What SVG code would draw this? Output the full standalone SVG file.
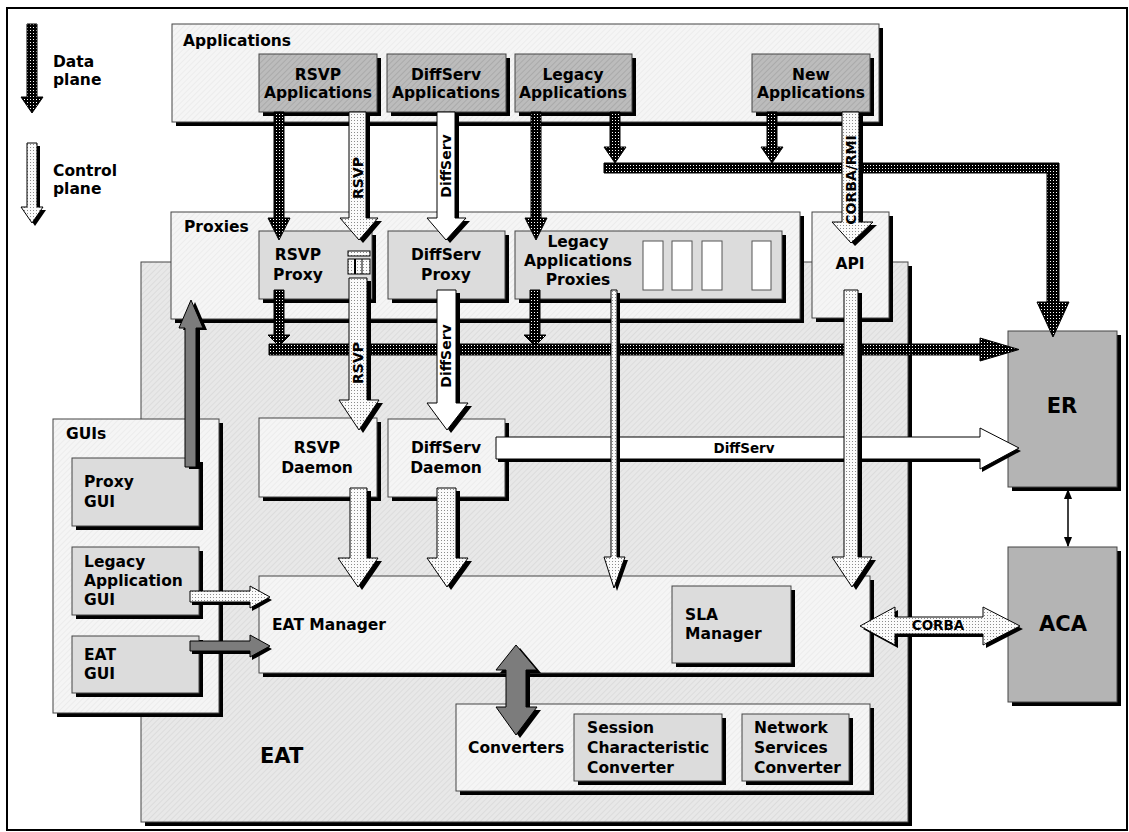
<svg xmlns="http://www.w3.org/2000/svg" width="1129" height="832" viewBox="0 0 1129 832">
<defs>
<pattern id="dp" width="3" height="3" patternUnits="userSpaceOnUse"><rect width="3" height="3" fill="#000"/><rect width="1" height="1" fill="#fff"/></pattern>
<pattern id="cp" width="3" height="3" patternUnits="userSpaceOnUse"><rect width="3" height="3" fill="#fbfbfb"/><rect width="1" height="1" fill="#8c8c8c"/></pattern>
<pattern id="hm" width="4" height="4" patternUnits="userSpaceOnUse" patternTransform="rotate(45)"><rect width="4" height="4" fill="#bcbcbc"/><rect width="1" height="4" fill="#aaaaaa"/></pattern>
<pattern id="hl" width="4" height="4" patternUnits="userSpaceOnUse" patternTransform="rotate(45)"><rect width="4" height="4" fill="#f5f5f5"/><rect width="1" height="4" fill="#ececec"/></pattern>
<pattern id="he" width="4" height="4" patternUnits="userSpaceOnUse" patternTransform="rotate(45)"><rect width="4" height="4" fill="#e8e8e8"/><rect width="1" height="4" fill="#dcdcdc"/></pattern>
<marker id="ah" viewBox="0 0 10 10" refX="9" refY="5" markerWidth="7" markerHeight="7" orient="auto-start-reverse"><path d="M0,1 L10,5 L0,9 z" fill="#000"/></marker>
<polygon id="lc" points="27,143 37,143 37,207 43,207 32,223 21,207 27,207"/>
<polygon id="c1" points="349,112 366,112 366,218 378,218 359,240 340,218 349,218"/>
<polygon id="c2" points="437,112 455,112 455,218 466,218 446,240 427,218 437,218"/>
<polygon id="c3" points="842,112 859,112 859,222 873,222 851,243 832,222 842,222"/>
<polygon id="c4" points="349,278 367,278 367,400 379,400 359,430 339,400 349,400"/>
<polygon id="c5" points="437,290 456,290 456,403 468,403 447,430 427,403 437,403"/>
<polygon id="c6" points="350,488 367,488 367,558 378,558 358,587 338,558 350,558"/>
<polygon id="c7" points="437,488 456,488 456,558 468,558 447,587 427,558 437,558"/>
<polygon id="c8" points="611,290 617,290 617,557 625,557 614,588 604,557 611,557"/>
<polygon id="c9" points="844,290 858,290 858,557 872,557 852,587 832,557 844,557"/>
<polygon id="c10" points="496,437 980,437 980,428 1019,448 980,469 980,459 496,459"/>
<polygon id="c11" points="190,591 250,591 250,586 270,597 250,608 250,602 190,602"/>
<polygon id="c12" points="190,641 250,641 250,635 270,646 250,657 250,651 190,651"/>
<polygon id="c13" points="185,467 196,467 196,328 203,328 191,300 179,328 185,328"/>
<polygon id="c14" points="516,645 537,670 526,670 526,707 537,707 516,735 496,707 506,707 506,670 496,670"/>
<polygon id="c15" points="860,626 895,607 895,617 983,617 983,607 1020,626 983,645 983,634 895,634 895,645"/>
</defs>
<style>
text{font-family:"DejaVu Sans","Liberation Sans",sans-serif;font-weight:bold;font-size:15.5px;fill:#000}
.m{text-anchor:middle}
.big{font-size:21px}
.sm{font-size:13.5px}
.rl{font-size:14px}
.sh{fill:#000}
.k0{fill:url(#hl);stroke:#444;stroke-width:1}
.k1{fill:url(#hm);stroke:#444;stroke-width:1}
.k2{fill:#dcdcdc;stroke:#444;stroke-width:1}
.ke{fill:url(#he);stroke:#444;stroke-width:1}
.kr{fill:#b4b4b4;stroke:#444;stroke-width:1}
.wb{fill:#fff;stroke:#555;stroke-width:1}
.data{fill:url(#dp);stroke:#000;stroke-width:1}
.ctrl{fill:url(#cp);stroke:#000;stroke-width:1}
.white{fill:#fff;stroke:#000;stroke-width:1}
.gray{fill:#7c7c7c;stroke:#000;stroke-width:1}
</style>
<rect x="7" y="8" width="1120" height="822" fill="#fff" stroke="#000" stroke-width="2"/>

<g id="legend">
<polygon class="data" points="27,24 37,24 37,97 43,97 32,113 21,97 27,97"/>
<text x="53" y="67">Data</text>
<text x="53" y="85">plane</text>
<use href="#lc" class="sh" transform="translate(3,3)"/>
<use href="#lc" class="ctrl"/>
<text x="53" y="176">Control</text>
<text x="53" y="194">plane</text>
</g>

<g id="eat">
<rect class="sh" x="145" y="266" width="767" height="560"/>
<rect class="ke" x="141" y="262" width="767" height="560"/>
<text class="big" x="260" y="763">EAT</text>
</g>

<g id="applications">
<rect class="sh" x="176" y="28" width="707" height="98"/>
<rect class="k0" x="172" y="24" width="707" height="98"/>
<text x="183" y="46">Applications</text>
</g>
<g id="rsvp-applications">
<rect class="sh" x="263" y="58" width="118" height="58"/>
<rect class="k1" x="259" y="54" width="118" height="58"/>
<text class="m" x="318" y="80">RSVP</text>
<text class="m" x="318" y="98">Applications</text>
</g>
<g id="diffserv-applications">
<rect class="sh" x="391" y="58" width="119" height="58"/>
<rect class="k1" x="387" y="54" width="119" height="58"/>
<text class="m" x="446" y="80">DiffServ</text>
<text class="m" x="446" y="98">Applications</text>
</g>
<g id="legacy-applications">
<rect class="sh" x="519" y="58" width="117" height="58"/>
<rect class="k1" x="515" y="54" width="117" height="58"/>
<text class="m" x="573" y="80">Legacy</text>
<text class="m" x="573" y="98">Applications</text>
</g>
<g id="new-applications">
<rect class="sh" x="756" y="58" width="118" height="58"/>
<rect class="k1" x="752" y="54" width="118" height="58"/>
<text class="m" x="811" y="80">New</text>
<text class="m" x="811" y="98">Applications</text>
</g>

<g id="proxies">
<rect class="sh" x="175" y="216" width="629" height="107"/>
<rect class="k0" x="171" y="212" width="629" height="107"/>
<text x="184" y="232">Proxies</text>
</g>
<g id="rsvp-proxy">
<rect class="sh" x="263" y="235" width="113" height="68"/>
<rect class="k2" x="259" y="231" width="113" height="68"/>
<text class="m" x="298" y="260">RSVP</text>
<text class="m" x="298" y="280">Proxy</text>
<rect x="348" y="251" width="22" height="5" fill="url(#cp)" stroke="#000"/>
<rect x="348" y="259" width="22" height="15" fill="url(#cp)" stroke="#000"/>
<line x1="355" y1="259" x2="355" y2="274" stroke="#000" stroke-width="2"/>
<line x1="362" y1="259" x2="362" y2="274" stroke="#000" stroke-width="1"/>
</g>
<g id="diffserv-proxy">
<rect class="sh" x="392" y="235" width="117" height="68"/>
<rect class="k2" x="388" y="231" width="117" height="68"/>
<text class="m" x="446" y="260">DiffServ</text>
<text class="m" x="446" y="280">Proxy</text>
</g>
<g id="legacy-applications-proxies">
<rect class="sh" x="519" y="235" width="267" height="68"/>
<rect class="k2" x="515" y="231" width="267" height="68"/>
<text class="m" x="578" y="247">Legacy</text>
<text class="m" x="578" y="266">Applications</text>
<text class="m" x="578" y="285">Proxies</text>
<rect class="wb" x="643" y="241" width="20" height="49"/>
<rect class="wb" x="672" y="241" width="20" height="49"/>
<rect class="wb" x="702" y="241" width="20" height="49"/>
<rect class="wb" x="752" y="241" width="19" height="49"/>
</g>
<g id="api">
<rect class="sh" x="816" y="216" width="77" height="106"/>
<rect class="k0" x="812" y="212" width="77" height="106"/>
<text class="m" x="850" y="269">API</text>
</g>

<g id="guis">
<rect class="sh" x="57" y="423" width="166" height="294"/>
<rect class="k0" x="53" y="419" width="166" height="294"/>
<text x="66" y="439">GUIs</text>
</g>
<g id="proxy-gui">
<rect class="sh" x="76" y="462" width="127" height="68"/>
<rect class="k2" x="72" y="458" width="127" height="68"/>
<text x="84" y="487">Proxy</text>
<text x="84" y="507">GUI</text>
</g>
<g id="legacy-application-gui">
<rect class="sh" x="76" y="551" width="127" height="68"/>
<rect class="k2" x="72" y="547" width="127" height="68"/>
<text x="84" y="567">Legacy</text>
<text x="84" y="586">Application</text>
<text x="84" y="605">GUI</text>
</g>
<g id="eat-gui">
<rect class="sh" x="76" y="640" width="127" height="57"/>
<rect class="k2" x="72" y="636" width="127" height="57"/>
<text x="84" y="660">EAT</text>
<text x="84" y="679">GUI</text>
</g>

<g id="rsvp-daemon">
<rect class="sh" x="263" y="422" width="118" height="79"/>
<rect class="k0" x="259" y="418" width="118" height="79"/>
<text class="m" x="317" y="453">RSVP</text>
<text class="m" x="317" y="473">Daemon</text>
</g>
<g id="diffserv-daemon">
<rect class="sh" x="392" y="423" width="117" height="78"/>
<rect class="k0" x="388" y="419" width="117" height="78"/>
<text class="m" x="446" y="453">DiffServ</text>
<text class="m" x="446" y="473">Daemon</text>
</g>
<g id="eat-manager">
<rect class="sh" x="263" y="580" width="611" height="97"/>
<rect class="k0" x="259" y="576" width="611" height="97"/>
<text x="272" y="630">EAT Manager</text>
</g>
<g id="sla-manager">
<rect class="sh" x="676" y="590" width="119" height="77"/>
<rect class="k2" x="672" y="586" width="119" height="77"/>
<text x="685" y="620">SLA</text>
<text x="685" y="639">Manager</text>
</g>
<g id="converters">
<rect class="sh" x="460" y="708" width="414" height="87"/>
<rect class="k0" x="456" y="704" width="414" height="87"/>
<text x="468" y="753">Converters</text>
</g>
<g id="session-characteristic-converter">
<rect class="sh" x="578" y="718" width="148" height="67"/>
<rect class="k2" x="574" y="714" width="148" height="67"/>
<text x="587" y="733">Session</text>
<text x="587" y="753">Characteristic</text>
<text x="587" y="773">Converter</text>
</g>
<g id="network-services-converter">
<rect class="sh" x="746" y="718" width="107" height="67"/>
<rect class="k2" x="742" y="714" width="107" height="67"/>
<text x="754" y="733">Network</text>
<text x="754" y="753">Services</text>
<text x="754" y="773">Converter</text>
</g>

<g id="er">
<rect class="sh" x="1012" y="335" width="109" height="156"/>
<rect class="kr" x="1008" y="331" width="109" height="156"/>
<text class="m big" x="1062" y="413">ER</text>
</g>
<g id="aca">
<rect class="sh" x="1012" y="551" width="109" height="155"/>
<rect class="kr" x="1008" y="547" width="109" height="155"/>
<text class="m big" x="1063" y="631">ACA</text>
</g>

<g id="connectors">
<polygon class="data" points="274,112 284,112 284,218 290,218 279,240 268,218 274,218"/>
<polygon class="data" points="531,112 541,112 541,218 547,218 536,240 525,218 531,218"/>
<polygon class="data" points="610,112 620,112 620,147 626,147 615,163 604,147 610,147"/>
<polygon class="data" points="767,112 777,112 777,147 783,147 772,163 761,147 767,147"/>
<polygon class="data" points="604,163 1059,163 1059,302 1069,302 1053,337 1037,302 1047,302 1047,173 604,173"/>
<polygon class="data" points="274,290 284,290 284,335 290,335 279,346 268,335 274,335"/>
<polygon class="data" points="530,290 540,290 540,335 546,335 535,346 524,335 530,335"/>
<polygon class="data" points="269,344 980,344 980,338 1019,349.5 980,361 980,355 269,355"/>

<use href="#c10" class="sh" transform="translate(2,3)"/>
<use href="#c10" class="white"/>
<text class="m sm" x="744" y="453">DiffServ</text>

<use href="#c1" class="sh" transform="translate(4,3)"/>
<use href="#c1" class="ctrl"/>
<text class="rl m" transform="translate(358,178) rotate(-90)" dy=".36em">RSVP</text>
<use href="#c2" class="sh" transform="translate(4,3)"/>
<use href="#c2" class="white"/>
<text class="rl m" transform="translate(446,166) rotate(-90)" dy=".36em">DiffServ</text>
<use href="#c3" class="sh" transform="translate(4,3)"/>
<use href="#c3" class="ctrl"/>
<text class="rl m" transform="translate(851,180) rotate(-90)" dy=".36em">CORBA/RMI</text>
<use href="#c4" class="sh" transform="translate(4,3)"/>
<use href="#c4" class="ctrl"/>
<text class="rl m" transform="translate(358,363) rotate(-90)" dy=".36em">RSVP</text>
<use href="#c5" class="sh" transform="translate(4,3)"/>
<use href="#c5" class="white"/>
<text class="rl m" transform="translate(446,356) rotate(-90)" dy=".36em">DiffServ</text>
<use href="#c6" class="sh" transform="translate(4,3)"/>
<use href="#c6" class="ctrl"/>
<use href="#c7" class="sh" transform="translate(4,3)"/>
<use href="#c7" class="ctrl"/>
<use href="#c8" class="sh" transform="translate(3,3)"/>
<use href="#c8" class="ctrl"/>
<use href="#c9" class="sh" transform="translate(4,3)"/>
<use href="#c9" class="ctrl"/>
<use href="#c11" class="sh" transform="translate(2,3)"/>
<use href="#c11" class="ctrl"/>
<use href="#c12" class="sh" transform="translate(2,3)"/>
<use href="#c12" class="gray"/>
<use href="#c13" class="sh" transform="translate(4,2)"/>
<use href="#c13" class="gray"/>
<use href="#c14" class="sh" transform="translate(4,3)"/>
<use href="#c14" class="gray"/>
<use href="#c15" class="sh" transform="translate(3,3)"/>
<use href="#c15" class="ctrl"/>
<text class="m sm" x="938" y="630">CORBA</text>
<line x1="1068" y1="490" x2="1068" y2="546" stroke="#000" stroke-width="1.5" marker-start="url(#ah)" marker-end="url(#ah)"/>
</g>
</svg>
